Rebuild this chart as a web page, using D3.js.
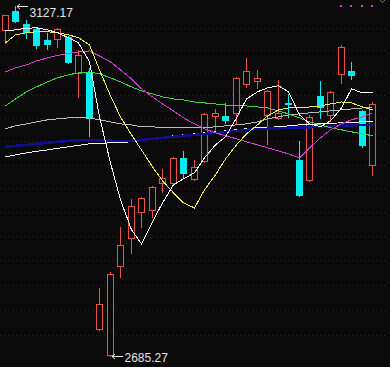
<!DOCTYPE html>
<html>
<head>
<meta charset="utf-8">
<script src="https://cdn.jsdelivr.net/npm/d3@7/dist/d3.min.js"></script>
<style>
  html, body { margin: 0; padding: 0; background: #0b0b0b; }
  svg { display: block; }
</style>
</head>
<body>
<script>
// daily candles (price)
var opens  = [3094.9, 3120.6, 3103.0, 3096.3, 3081.5, 3082.8, 3085.5, 3037.5, 3038.8, 2717.2,
              2686.5, 2792.7, 2827.0, 2859.1, 2861.6, 2895.5, 2895.5, 2927.1, 2900.6, 2923.3,
              2981.1, 2981.1, 2985.0, 3023.0, 3027.0, 2982.4, 2978.5, 2997.3, 2924.6, 2899.3,
              3007.2, 2982.4, 3036.2, 3040.1, 2987.6, 2918.2];
var highs  = [3115.2, 3127.17, 3108.4, 3097.6, 3090.9, 3097.6, 3086.9, 3068.0, 3044.1, 2766.1,
              2785.5, 2840.6, 2875.3, 2877.9, 2891.7, 2913.2, 2928.3, 2936.0, 2924.6, 2985.0,
              2990.1, 2998.0, 3032.2, 3057.3, 3041.4, 3015.1, 3028.3, 3009.8, 2948.9, 2982.4,
              3027.0, 3013.8, 3074.7, 3052.0, 2988.9, 2999.3];
var lows   = [3077.4, 3105.7, 3084.2, 3070.7, 3069.3, 3072.0, 3050.7, 3005.9, 2955.4, 2716.0,
              2685.27, 2779.4, 2808.5, 2840.6, 2852.9, 2884.2, 2894.3, 2903.1, 2899.3, 2922.0,
              2959.2, 2972.1, 2972.1, 3019.0, 3017.7, 2945.1, 2977.3, 2979.8, 2879.1, 2898.0,
              2978.5, 2974.7, 3024.3, 3029.6, 2941.2, 2905.6];
var closes = [3115.2, 3107.1, 3092.3, 3074.7, 3076.1, 3096.3, 3052.0, 3061.2, 2978.5, 2746.8,
              2783.1, 2818.4, 2866.5, 2876.6, 2890.5, 2901.8, 2927.1, 2908.1, 2915.7, 2983.7,
              2985.0, 2976.0, 3030.9, 3040.1, 3030.9, 3013.8, 2985.0, 2996.6, 2880.4, 2979.8,
              2992.7, 3012.5, 3072.0, 3034.9, 2943.8, 2996.6];

// moving averages
var ma5   = [3093.6, 3094.9, 3097.0, 3097.6, 3094.9, 3090.9, 3084.2, 3077.4, 3052.0, 2979.8,
             2920.8, 2874.1, 2836.9, 2819.6, 2846.8, 2870.3, 2893.0, 2900.6, 2908.1, 2927.1,
             2943.8, 2954.1, 2978.5, 3003.2, 3012.5, 3017.7, 3020.4, 3012.5, 2982.4, 2970.8,
             2967.0, 2974.7, 2991.4, 3016.4, 3011.1, 3011.1];
var ma10  = [3077.4, 3088.2, 3090.9, 3092.3, 3092.3, 3090.9, 3088.2, 3084.2, 3074.7, 3041.4,
             3007.2, 2979.8, 2956.6, 2937.3, 2915.7, 2898.1, 2882.9, 2870.3, 2864.0, 2886.7,
             2905.6, 2925.8, 2943.8, 2957.9, 2969.5, 2981.1, 2988.8, 2991.4, 2991.4, 2992.7,
             2994.0, 2996.6, 2999.3, 2998.0, 2992.7, 2988.8];
var ma20  = [3038.8, 3044.1, 3048.0, 3053.3, 3057.3, 3060.6, 3063.3, 3065.3, 3066.6, 3059.9,
             3052.0, 3041.4, 3029.6, 3016.4, 3005.9, 2996.6, 2987.6, 2978.5, 2970.8, 2964.4,
             2959.2, 2955.4, 2951.5, 2947.6, 2943.8, 2939.9, 2936.0, 2932.2, 2927.1, 2939.9,
             2952.8, 2963.1, 2970.8, 2976.0, 2979.8, 2985.0];
var ma30  = [2994.0, 3003.2, 3012.5, 3019.0, 3025.6, 3030.9, 3034.9, 3037.5, 3038.8, 3036.2,
             3030.9, 3025.6, 3019.0, 3013.8, 3009.8, 3005.9, 3003.2, 3001.9, 2999.3, 2998.0,
             2996.6, 2995.3, 2994.0, 2994.0, 2992.7, 2991.4, 2987.6, 2983.7, 2978.5, 2973.4,
             2969.5, 2965.7, 2963.1, 2960.5, 2957.9, 2955.4];
var ma60  = [2964.4, 2968.2, 2970.8, 2973.4, 2976.0, 2977.3, 2978.5, 2978.5, 2978.5, 2976.0,
             2973.4, 2970.8, 2969.5, 2967.0, 2967.0, 2965.7, 2965.7, 2965.7, 2965.7, 2965.7,
             2967.0, 2968.2, 2969.5, 2970.8, 2973.4, 2977.3, 2979.8, 2982.4, 2983.7, 2985.0,
             2986.3, 2987.6, 2988.9, 2990.1, 2991.4, 2992.7];
var ma120 = [2941.2, 2942.5, 2943.8, 2945.1, 2946.3, 2947.6, 2948.9, 2949.6, 2950.2, 2950.2,
             2948.9, 2948.9, 2948.9, 2950.2, 2951.5, 2952.8, 2954.1, 2955.4, 2956.6, 2957.9,
             2959.2, 2960.5, 2961.8, 2963.1, 2964.4, 2964.4, 2965.0, 2965.7, 2965.7, 2966.3,
             2967.0, 2967.6, 2968.2, 2968.9, 2969.5, 2969.5];
var ma250 = [2928.3, 2930.9, 2933.5, 2935.4, 2937.3, 2939.3, 2941.2, 2943.1, 2945.1, 2945.7,
             2946.3, 2947.0, 2947.6, 2949.6, 2951.5, 2953.4, 2955.4, 2956.6, 2957.9, 2959.2,
             2960.5, 2961.8, 2963.1, 2964.4, 2965.7, 2966.3, 2967.0, 2968.2, 2969.5, 2970.2,
             2970.8, 2971.5, 2972.1, 2972.7, 2973.4, 2973.4];

// horizontal grid levels
var gridPrices = [2710.1, 2739.9, 2769.6, 2799.4, 2829.2, 2858.9, 2888.7, 2918.5, 2948.2,
                  2978.0, 3007.8, 3037.5, 3067.3, 3097.1];

// signal dots at the top right
var markDays = [32, 33, 34, 35];

function init() {
    var w = 390, h = 367;
    var plotTop = 6, plotBottom = 356;

    var svg = d3.select("body")
        .append("svg")
        .attr("width", w)
        .attr("height", h);

    svg.append("rect")
        .attr("width", w)
        .attr("height", h)
        .attr("fill", "#0b0b0b");

    var days = d3.range(opens.length);

    var xScale = d3.scaleBand()
        .domain(days)
        .range([0, 378])
        .paddingInner(0.38)
        .paddingOuter(0.19);

    var yScale = d3.scaleLog()
        .domain([d3.min(lows), d3.max(highs)])
        .range([plotBottom, plotTop]);

    function left(i) { return Math.round(xScale(i)) + 0.5; }
    function cx(i) { return left(i) + 3; }

    // grid
    svg.selectAll("line.grid")
        .data(gridPrices)
        .enter()
        .append("line")
        .attr("class", "grid")
        .attr("x1", 0)
        .attr("x2", 388)
        .attr("y1", function(d) { return Math.round(yScale(d)) + 0.5; })
        .attr("y2", function(d) { return Math.round(yScale(d)) + 0.5; })
        .attr("stroke", "#5c1818")
        .attr("stroke-dasharray", "1,3");

    // candles
    var up = "#e8524c", down = "#00eef2";
    var candles = svg.selectAll("g.candle")
        .data(days)
        .enter()
        .append("g")
        .attr("class", "candle")
        .attr("shape-rendering", "crispEdges");

    candles.append("line")
        .attr("x1", cx).attr("x2", cx)
        .attr("y1", function(i) { return Math.round(yScale(highs[i])); })
        .attr("y2", function(i) { return Math.round(yScale(lows[i])) + 1; })
        .attr("stroke", function(i) { return closes[i] >= opens[i] ? up : down; });

    candles.append("rect")
        .attr("x", left)
        .attr("y", function(i) { return Math.round(yScale(Math.max(opens[i], closes[i]))) + 0.5; })
        .attr("width", 6)
        .attr("height", function(i) {
            var t = Math.round(yScale(Math.max(opens[i], closes[i])));
            var b = Math.round(yScale(Math.min(opens[i], closes[i])));
            return Math.max(0.5, b - t);
        })
        .attr("fill", function(i) { return closes[i] >= opens[i] ? "#0b0b0b" : down; })
        .attr("stroke", function(i) { return closes[i] >= opens[i] ? up : down; });

    // moving averages
    var line = d3.line()
        .x(function(d, i) { return cx(i); })
        .y(function(d) { return yScale(d); });

    var series = [
        { values: ma250, color: "#f2f2f2", width: 1 },
        { values: ma120, color: "#10108e", width: 2.6 },
        { values: ma60,  color: "#b9b9b9", width: 1 },
        { values: ma30,  color: "#3fd03f", width: 1 },
        { values: ma20,  color: "#d23cd2", width: 1 },
        { values: ma10,  color: "#eeee50", width: 1 },
        { values: ma5,   color: "#ffffff", width: 1 }
    ];

    svg.selectAll("path.ma")
        .data(series)
        .enter()
        .append("path")
        .attr("class", "ma")
        .attr("d", function(s) { return line(s.values); })
        .attr("fill", "none")
        .attr("stroke", function(s) { return s.color; })
        .attr("stroke-width", function(s) { return s.width; })
        .attr("shape-rendering", "crispEdges");

    // high / low markers
    var hi = d3.maxIndex(highs), lo = d3.minIndex(lows);
    var marks = [
        { i: hi, price: highs[hi], dy: 10 },
        { i: lo, price: lows[lo], dy: 5.5 }
    ];

    marks.forEach(function(m) {
        var x0 = cx(m.i) + 1.5;
        var y0 = Math.round(yScale(m.price)) + 0.5;
        svg.append("path")
            .attr("d", "M" + x0 + "," + y0 + "H" + (x0 + 11) +
                       "M" + (x0 + 3) + "," + (y0 - 2.5) + "L" + x0 + "," + y0 + "L" + (x0 + 3) + "," + (y0 + 2.5))
            .attr("fill", "none")
            .attr("stroke", "#e6e6e6");
        svg.append("text")
            .attr("x", x0 + 12.5)
            .attr("y", y0 + m.dy)
            .attr("fill", "#e6e6e6")
            .style("font-family", "'Liberation Sans', Arial, sans-serif")
            .style("font-size", "12px")
            .text(m.price.toFixed(2));
    });

    // dots top right
    svg.selectAll("rect.mark")
        .data(markDays)
        .enter()
        .append("rect")
        .attr("class", "mark")
        .attr("x", function(i) { return cx(i) - 1.5; })
        .attr("y", plotTop - 1)
        .attr("width", 2)
        .attr("height", 2)
        .attr("fill", "#d23cd2");

    svg.append("path")
        .attr("d", "M380,0L382.5,2.5L385,0")
        .attr("fill", "none")
        .attr("stroke", "#777");
}

init();
</script>
</body>
</html>
